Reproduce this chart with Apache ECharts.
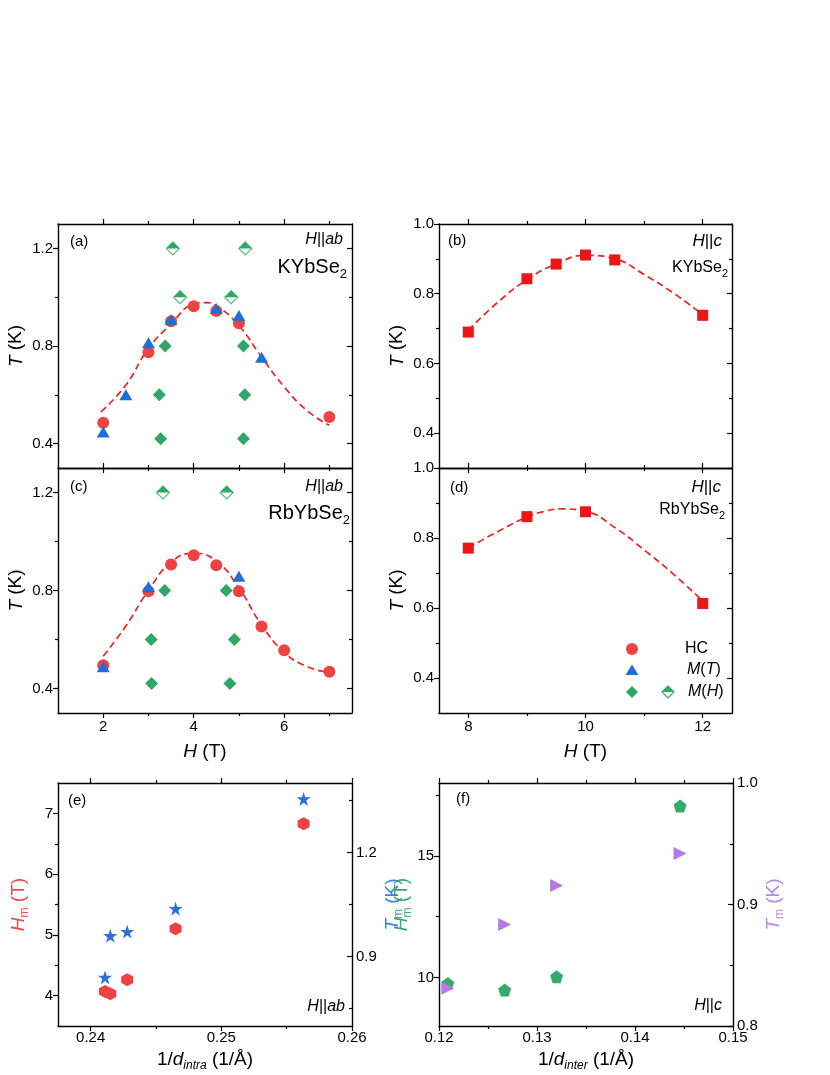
<!DOCTYPE html>
<html><head><meta charset="utf-8">
<script src="https://cdn.jsdelivr.net/npm/echarts@6/dist/echarts.min.js"></script>
<style>html,body{margin:0;padding:0;background:#fff}#c{width:830px;height:1075px}</style>
</head><body><div id="c"></div>
<script>
// ---------- DATA ----------
// (a) KYbSe2, H||ab
const aHC_H = [2, 3, 3.5, 4, 4.5, 5, 7];
const aHC_T = [0.485, 0.774, 0.901, 0.963, 0.943, 0.893, 0.509];
const aMT_H = [2, 2.5, 3, 3.5, 4.5, 5, 5.5];
const aMT_T = [0.448, 0.60, 0.813, 0.909, 0.954, 0.925, 0.754];
const aMH_H = [3.37, 3.24, 3.27, 5.10, 5.13, 5.10];
const aMH_T = [0.80, 0.60, 0.42, 0.80, 0.60, 0.42];
const aMHo_H = [3.54, 5.14, 3.70, 4.83];
const aMHo_T = [1.2, 1.2, 1.0, 1.0];
const aFit_H = [1.95, 2.5, 3, 3.5, 4, 4.25, 4.5, 5, 5.5, 6, 6.5, 7];
const aFit_T = [0.53, 0.64, 0.79, 0.89, 0.972, 0.978, 0.965, 0.883, 0.755, 0.633, 0.536, 0.475];
// (c) RbYbSe2, H||ab
const cHC_H = [2, 3, 3.5, 4, 4.5, 5, 5.5, 6, 7];
const cHC_T = [0.495, 0.797, 0.906, 0.944, 0.903, 0.797, 0.653, 0.556, 0.468];
const cMT_H = [2, 3, 5];
const cMT_T = [0.489, 0.815, 0.858];
const cMH_H = [3.36, 3.06, 3.07, 4.72, 4.90, 4.80];
const cMH_T = [0.80, 0.60, 0.42, 0.80, 0.60, 0.42];
const cMHo_H = [3.32, 4.73];
const cMHo_T = [1.2, 1.2];
const cFit_H = [2, 2.5, 3, 3.5, 4, 4.5, 5, 5.5, 6, 6.5, 7];
const cFit_T = [0.532, 0.655, 0.80, 0.915, 0.952, 0.92, 0.81, 0.66, 0.548, 0.49, 0.465];
// (b) KYbSe2, H||c
const bH = [8, 9, 9.5, 10, 10.5, 12];
const bT = [0.690, 0.843, 0.885, 0.911, 0.897, 0.738];
const bFit_H = [8, 8.5, 9, 9.5, 10, 10.5, 11, 11.5, 12];
const bFit_T = [0.695, 0.775, 0.84, 0.885, 0.91, 0.90, 0.855, 0.802, 0.74];
// (d) RbYbSe2, H||c
const dH = [8, 9, 10, 12];
const dT = [0.771, 0.861, 0.875, 0.613];
const dFit_H = [8, 8.5, 9, 9.3, 9.6, 10, 10.5, 11, 11.5, 12];
const dFit_T = [0.772, 0.818, 0.86, 0.876, 0.883, 0.876, 0.83, 0.766, 0.697, 0.62];
// (e) vs 1/d_intra, H||ab
const eX  = [0.2411, 0.2415, 0.2428, 0.2465, 0.2563];
const eHm = [4.066, 4.03, 4.26, 5.10, 6.83];
const eTm = [0.840, 0.960, 0.972, 1.038, 1.354];
// (f) vs 1/d_inter, H||c
const fX  = [0.1209, 0.1267, 0.1320, 0.1446];
const fHm = [9.75, 9.48, 10.03, 17.05];
const fTm = [0.831, 0.8835, 0.9156, 0.942];
// tick labels
const abYLabels = [0.4, 0.8, 1.2];
const bdYLabels = [0.4, 0.6, 0.8, 1.0];
const acXLabels = [2, 4, 6];
const bdXLabels = [8, 10, 12];
const eXLabels = [0.24, 0.25, 0.26];
const eYLLabels = [4, 5, 6, 7];
const eYRLabels = [0.9, 1.2];
const fXLabels = [0.12, 0.13, 0.14, 0.15];
const fYLLabels = [10, 15];
const fYRLabels = [0.8, 0.9, 1.0];

// ---------- STYLE ----------
const FONT = '"Liberation Sans", Arial, sans-serif';
const RED = '#ef4343', BLUE = '#1f6fd9', GREEN = '#2fa766', SQ = '#ee1515';
const LINE = '#ee2222', PURPLE = '#b57ae6';
const pts = (xs, ys) => xs.map((x, i) => [x, ys[i]]);
const f1 = v => v.toFixed(1), f2 = v => v.toFixed(2), f0 = v => String(Math.round(v));

const grids = [
  {left: 58, top: 224, width: 294, height: 244},   // a
  {left: 58, top: 468, width: 294, height: 245},   // c
  {left: 439, top: 224, width: 293, height: 244},  // b
  {left: 439, top: 468, width: 293, height: 245},  // d
  {left: 58, top: 783, width: 294, height: 243},   // e
  {left: 439, top: 783, width: 294, height: 243}   // f
];

const xAxes = [], yAxes = [];
function addAxes(list, o) {
  const tickStyle = {color: '#000', width: 1.2};
  const idx = list.length;
  list.push({
    type: 'value', gridIndex: o.g, position: o.pos, min: o.min, max: o.max, offset: 0,
    splitLine: {show: false},
    axisLine: {show: true, onZero: false, lineStyle: {color: '#000', width: 1.4}},
    axisTick: {show: true, inside: !!o.inside, length: 5, customValues: o.major, lineStyle: tickStyle},
    axisLabel: o.labels ? {show: true, customValues: o.labels, formatter: o.fmt,
      margin: o.margin == null ? 6 : o.margin, color: '#000', fontSize: 15, fontFamily: FONT,
      hideOverlap: false} : {show: false},
    name: o.name || '', nameLocation: 'middle', nameGap: o.nameGap || 0,
    nameTextStyle: o.nameStyle || {}, silent: true
  });
  if (o.minor && o.minor.length) list.push({
    type: 'value', gridIndex: o.g, position: o.pos, min: o.min, max: o.max, offset: 0,
    splitLine: {show: false}, axisLine: {show: false, onZero: false},
    axisTick: {show: true, inside: !!o.inside, length: 3, customValues: o.minor, lineStyle: tickStyle},
    axisLabel: {show: false}, silent: true
  });
  return idx;
}
function nameStyle(color) {
  return {
    color: color, fontSize: 19, fontFamily: FONT, lineHeight: 24,
    rich: {
      i: {fontStyle: 'italic', fontSize: 19, fontFamily: FONT, color: color, lineHeight: 24},
      s: {fontSize: 12, fontFamily: FONT, color: color, lineHeight: 12, verticalAlign: 'bottom'},
      si: {fontSize: 12, fontStyle: 'italic', fontFamily: FONT, color: color, lineHeight: 12, verticalAlign: 'bottom'}
    }
  };
}
const TK = '{i|T} (K)', HT = '{i|H} (T)';

// (a)
const xa = addAxes(xAxes, {g: 0, pos: 'bottom', min: 1, max: 7.5, major: [2, 4, 6], minor: [3, 5, 7]});
addAxes(xAxes, {g: 0, pos: 'top', min: 1, max: 7.5, major: [2, 4, 6], minor: [3, 5, 7]});
const ya = addAxes(yAxes, {g: 0, pos: 'left', min: 0.3, max: 1.3, major: [0.4, 0.8, 1.2], minor: [0.6, 1.0],
  labels: abYLabels, fmt: f1, margin: 5, name: TK, nameGap: 27, nameStyle: nameStyle('#000')});
addAxes(yAxes, {g: 0, pos: 'right', min: 0.3, max: 1.3, major: [0.4, 0.8, 1.2], minor: [0.6, 1.0], inside: true});
// (c)
const xc = addAxes(xAxes, {g: 1, pos: 'bottom', min: 1, max: 7.5, major: [2, 4, 6], minor: [3, 5, 7],
  labels: acXLabels, fmt: f0, name: HT, nameGap: 27, nameStyle: nameStyle('#000')});
addAxes(xAxes, {g: 1, pos: 'top', min: 1, max: 7.5, major: [2, 4, 6], minor: [3, 5, 7]});
const yc = addAxes(yAxes, {g: 1, pos: 'left', min: 0.3, max: 1.3, major: [0.4, 0.8, 1.2], minor: [0.6, 1.0],
  labels: abYLabels, fmt: f1, margin: 5, name: TK, nameGap: 27, nameStyle: nameStyle('#000')});
addAxes(yAxes, {g: 1, pos: 'right', min: 0.3, max: 1.3, major: [0.4, 0.8, 1.2], minor: [0.6, 1.0], inside: true});
// (b)
const xb = addAxes(xAxes, {g: 2, pos: 'bottom', min: 7.5, max: 12.5, major: [8, 10, 12], minor: [9, 11]});
addAxes(xAxes, {g: 2, pos: 'top', min: 7.5, max: 12.5, major: [8, 10, 12], minor: [9, 11]});
const yb = addAxes(yAxes, {g: 2, pos: 'left', min: 0.3, max: 1.0, major: [0.4, 0.6, 0.8, 1.0], minor: [0.5, 0.7, 0.9],
  labels: bdYLabels, fmt: f1, margin: 5, name: TK, nameGap: 26, nameStyle: nameStyle('#000')});
addAxes(yAxes, {g: 2, pos: 'right', min: 0.3, max: 1.0, major: [0.4, 0.6, 0.8, 1.0], minor: [0.5, 0.7, 0.9], inside: true});
// (d)
const xd = addAxes(xAxes, {g: 3, pos: 'bottom', min: 7.5, max: 12.5, major: [8, 10, 12], minor: [9, 11],
  labels: bdXLabels, fmt: f0, name: HT, nameGap: 27, nameStyle: nameStyle('#000')});
addAxes(xAxes, {g: 3, pos: 'top', min: 7.5, max: 12.5, major: [8, 10, 12], minor: [9, 11]});
const yd = addAxes(yAxes, {g: 3, pos: 'left', min: 0.3, max: 1.0, major: [0.4, 0.6, 0.8, 1.0], minor: [0.5, 0.7, 0.9],
  labels: bdYLabels, fmt: f1, margin: 5, name: TK, nameGap: 26, nameStyle: nameStyle('#000')});
addAxes(yAxes, {g: 3, pos: 'right', min: 0.3, max: 1.0, major: [0.4, 0.6, 0.8, 1.0], minor: [0.5, 0.7, 0.9], inside: true});
// (e)
const xe = addAxes(xAxes, {g: 4, pos: 'bottom', min: 0.2375, max: 0.26, major: [0.24, 0.25, 0.26], minor: [0.245, 0.255],
  labels: eXLabels, fmt: f2, margin: 4, name: '1/{i|d}{si|intra} (1/Å)', nameGap: 22, nameStyle: nameStyle('#000')});
addAxes(xAxes, {g: 4, pos: 'top', min: 0.2375, max: 0.26, major: [0.24, 0.25, 0.26], minor: [0.245, 0.255]});
const yeL = addAxes(yAxes, {g: 4, pos: 'left', min: 3.5, max: 7.5, major: [4, 5, 6, 7], minor: [4.5, 5.5, 6.5],
  labels: eYLLabels, fmt: f0, margin: 5, name: '{i|H}{s|m} (T)', nameGap: 27, nameStyle: nameStyle('#f0474a')});
const yeR = addAxes(yAxes, {g: 4, pos: 'right', min: 0.7, max: 1.4, major: [0.9, 1.2], minor: [0.75, 1.05, 1.35], inside: true,
  labels: eYRLabels, fmt: f1, margin: 4, name: '{i|T}{s|m} (K)', nameGap: 23, nameStyle: nameStyle('#3b82e0')});
// (f)
const xf = addAxes(xAxes, {g: 5, pos: 'bottom', min: 0.12, max: 0.15, major: [0.12, 0.13, 0.14, 0.15], minor: [0.125, 0.135, 0.145],
  labels: fXLabels, fmt: f2, margin: 4, name: '1/{i|d}{si|inter} (1/Å)', nameGap: 22, nameStyle: nameStyle('#000')});
addAxes(xAxes, {g: 5, pos: 'top', min: 0.12, max: 0.15, major: [0.12, 0.13, 0.14, 0.15], minor: [0.125, 0.135, 0.145]});
const yfL = addAxes(yAxes, {g: 5, pos: 'left', min: 8, max: 18, major: [10, 15], minor: [12.5, 17.5],
  labels: fYLLabels, fmt: f0, margin: 5, name: '{i|H}{s|m} (T)', nameGap: 16, nameStyle: nameStyle('#38ad6c')});
const yfR = addAxes(yAxes, {g: 5, pos: 'right', min: 0.8, max: 1.0, major: [0.8, 0.9, 1.0], minor: [0.85, 0.95], inside: true,
  labels: fYRLabels, fmt: f1, margin: 4, name: '{i|T}{s|m} (K)', nameGap: 27, nameStyle: nameStyle('#b888e8')});

// ---------- SERIES ----------
const HEX = 'path://M0,-1L0.866,-0.5L0.866,0.5L0,1L-0.866,0.5L-0.866,-0.5Z';
const STAR = 'path://M0,-1L0.2245,-0.309L0.951,-0.309L0.363,0.118L0.588,0.809L0,0.382L-0.588,0.809L-0.363,0.118L-0.951,-0.309L-0.2245,-0.309Z';
const PENT = 'path://M0,-1L0.951,-0.309L0.588,0.809L-0.588,0.809L-0.951,-0.309Z';
const series = [];
function fit(xi, yi, data) {
  series.push({type: 'line', xAxisIndex: xi, yAxisIndex: yi, data, smooth: 0.5, symbol: 'none', z: 1,
    lineStyle: {color: LINE, width: 1.7, type: [7, 4]}, silent: true});
}
function sc(xi, yi, data, symbol, size, color, z, extra) {
  series.push(Object.assign({type: 'scatter', xAxisIndex: xi, yAxisIndex: yi, data, symbol, symbolSize: size,
    itemStyle: {color, opacity: 1}, z: z, silent: true}, extra || {}));
}
function halfDiamond(xi, yi, data) {
  sc(xi, yi, data, 'diamond', 13, '#fff', 3, {itemStyle: {color: '#fff', borderColor: GREEN, borderWidth: 1.2}});
  sc(xi, yi, data, 'triangle', [13, 6.5], GREEN, 4, {symbolOffset: [0, -3.25]});
}
// (a)
fit(xa, ya, pts(aFit_H, aFit_T));
sc(xa, ya, pts(aHC_H, aHC_T), 'circle', 12, RED, 2);
sc(xa, ya, pts(aMT_H, aMT_T), 'triangle', [13, 11], BLUE, 3);
sc(xa, ya, pts(aMH_H, aMH_T), 'diamond', 13, GREEN, 3);
halfDiamond(xa, ya, pts(aMHo_H, aMHo_T));
// (c)
fit(xc, yc, pts(cFit_H, cFit_T));
sc(xc, yc, pts(cHC_H, cHC_T), 'circle', 12, RED, 2);
sc(xc, yc, pts(cMT_H, cMT_T), 'triangle', [13, 11], BLUE, 3);
sc(xc, yc, pts(cMH_H, cMH_T), 'diamond', 13, GREEN, 3);
halfDiamond(xc, yc, pts(cMHo_H, cMHo_T));
// (b)
fit(xb, yb, pts(bFit_H, bFit_T));
sc(xb, yb, pts(bH, bT), 'rect', 11, SQ, 2);
// (d)
fit(xd, yd, pts(dFit_H, dFit_T));
sc(xd, yd, pts(dH, dT), 'rect', 11, SQ, 2);
// (e)
sc(xe, yeL, pts(eX, eHm), HEX, [12, 13], '#ee4242', 2);
sc(xe, yeR, pts(eX, eTm), STAR, 14, '#2d6fdc', 3);
// (f)
sc(xf, yfL, pts(fX, fHm), PENT, 13, '#37ab6e', 2);
sc(xf, yfR, pts(fX, fTm), 'triangle', [13, 13], PURPLE, 3, {symbolRotate: -90});

// ---------- TEXT / LEGEND ----------
function richT(fs) {
  return {
    i: {fontStyle: 'italic', fontSize: fs, fontFamily: FONT, fill: '#000'},
    s: {fontSize: Math.round(fs * 0.67), fontFamily: FONT, fill: '#000', lineHeight: 10, verticalAlign: 'bottom'}
  };
}
function txt(x, y, text, align, fs) {
  fs = fs || 15;
  return {type: 'text', x, y, silent: true, z: 50,
    style: {text, fill: '#000', font: fs + 'px ' + FONT, align: align || 'left', verticalAlign: 'middle',
      lineHeight: Math.round(fs * 1.35), rich: richT(fs)}};
}
const G = [];
G.push(txt(70, 242, '(a)'), txt(343, 240, '{i|H}||{i|ab}', 'right', 16), txt(347, 267, 'KYbSe{s|2}', 'right', 20));
G.push(txt(448, 241, '(b)'), txt(722, 241, '{i|H}||{i|c}', 'right', 17), txt(728, 268, 'KYbSe{s|2}', 'right', 16));
G.push(txt(70, 487, '(c)'), txt(343, 487, '{i|H}||{i|ab}', 'right', 16), txt(350, 513, 'RbYbSe{s|2}', 'right', 20));
G.push(txt(450, 488, '(d)'), txt(721, 487, '{i|H}||{i|c}', 'right', 17), txt(725, 510, 'RbYbSe{s|2}', 'right', 16));
G.push(txt(68, 801, '(e)'), txt(345, 1007, '{i|H}||{i|ab}', 'right', 16));
G.push(txt(456, 799, '(f)'), txt(722, 1006, '{i|H}||{i|c}', 'right', 16));
// legend in (d)
G.push({type: 'circle', shape: {cx: 632, cy: 649, r: 6}, style: {fill: RED}, silent: true, z: 50});
G.push(txt(685, 649, 'HC', 'left', 16));
G.push({type: 'polygon', shape: {points: [[632, 664.5], [638.5, 675], [625.5, 675]]}, style: {fill: BLUE}, silent: true, z: 50});
G.push(txt(687, 670, '{i|M}({i|T})', 'left', 16));
G.push({type: 'polygon', shape: {points: [[632, 686], [638, 692], [632, 698], [626, 692]]}, style: {fill: GREEN}, silent: true, z: 50});
G.push({type: 'polygon', shape: {points: [[668, 686], [674, 692], [668, 698], [662, 692]]}, style: {fill: '#fff', stroke: GREEN, lineWidth: 1.2}, silent: true, z: 50});
G.push({type: 'polygon', shape: {points: [[668, 686], [674, 692], [662, 692]]}, style: {fill: GREEN}, silent: true, z: 51});
G.push(txt(688, 692, '{i|M}({i|H})', 'left', 16));

const chart = echarts.init(document.getElementById('c'), null, {renderer: 'canvas'});
chart.setOption({
  animation: false,
  backgroundColor: '#fff',
  grid: grids,
  xAxis: xAxes,
  yAxis: yAxes,
  series: series,
  graphic: G
});
</script>
</body></html>
